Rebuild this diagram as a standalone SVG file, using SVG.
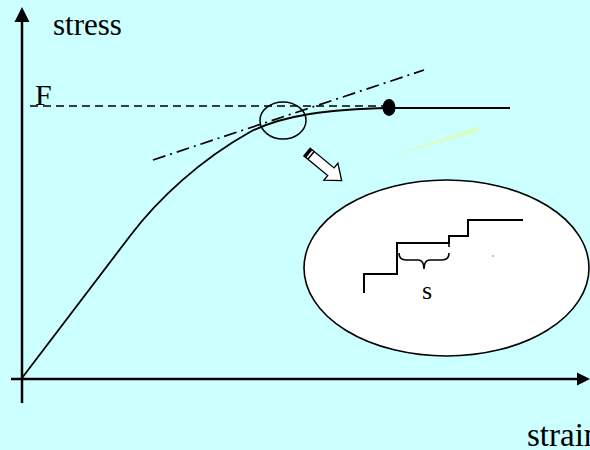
<svg xmlns="http://www.w3.org/2000/svg" width="590" height="450" viewBox="0 0 590 450">
<defs>
<style>
.t{font-family:"Liberation Serif","Times New Roman",serif;fill:#000}
.ln{fill:none;stroke:#000}
</style>
</defs>
<rect x="0" y="0" width="590" height="450" fill="#CCFFFF"/>
<g id="axes">
<line class="ln" x1="22" y1="20" x2="22" y2="403" stroke-width="2.5"/>
<polygon points="22,7 14.5,22 29.5,22" fill="#000"/>
<line class="ln" x1="11" y1="379" x2="579" y2="379" stroke-width="2.5"/>
<polygon points="590,379 577,372.5 577,385.5" fill="#000"/>
</g>
<g id="labels">
<text class="t" x="53" y="35" font-size="31">stress</text>
<text class="t" x="35" y="105" font-size="30">F</text>
<text class="t" x="527" y="446" font-size="33">strain</text>
</g>
<g id="guides">
<line class="ln" x1="30" y1="106" x2="385" y2="106" stroke-width="1.5" stroke-dasharray="8,5"/>
<line class="ln" x1="153" y1="160" x2="424" y2="70" stroke-width="1.7" stroke-dasharray="13,5,2,5"/>
</g>
<g id="curve">
<path class="ln" stroke-width="1.8" d="M22,378 L130,236 C158,199 200,160 250,132 C283,115 330,109 389,108 L510,108"/>
<ellipse cx="389" cy="107.5" rx="6.5" ry="8.5" fill="#000"/>
</g>
<g id="zoom-circle">
<ellipse class="ln" cx="283" cy="120.5" rx="23" ry="18.5" stroke-width="1.5"/>
</g>
<g id="streak">
<polygon points="388,157 479,126 479,132" fill="#D9FCC9"/>
</g>
<g id="connectors">
<g transform="translate(307,152) rotate(39.6)">
<path d="M0,-5 L31,-5 L31,-11 L45,0 L31,11 L31,5 L0,5 Z" fill="#fff" stroke="#000" stroke-width="1.3"/>
<rect x="0" y="-5" width="3" height="10" fill="#000"/>
<rect x="4.5" y="-5" width="1.5" height="10" fill="#000"/>
</g>
</g>
<g id="detail">
<ellipse cx="446.5" cy="268" rx="142.5" ry="88" fill="#fff" stroke="#000" stroke-width="1.6"/>
<path class="ln" stroke-width="2" d="M364,293 L364,274 L397,274 L397,243 L449,243 L449,236 L468,236 L468,220 L523,220"/>
<line class="ln" x1="449" y1="243" x2="449" y2="247" stroke-width="1.5"/>
<path class="ln" stroke-width="1.6" d="M399,253 Q399,260 406,260 L418,260 Q424,260 424,269 Q424,260 430,260 L442,260 Q449,260 449,253"/>
<text class="t" x="422" y="299" font-size="26">s</text>
<line x1="493" y1="255" x2="493" y2="257" stroke="#888" stroke-width="1"/>
</g>
</svg>
